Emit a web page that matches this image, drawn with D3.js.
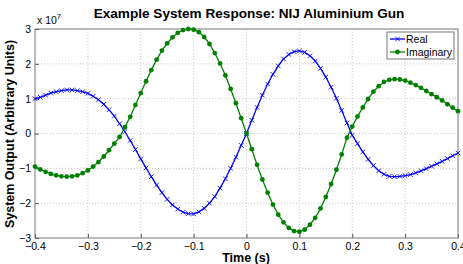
<!DOCTYPE html>
<html>
<head>
<meta charset="utf-8">
<script src="https://cdn.jsdelivr.net/npm/d3@7"></script>
<style>
  body { margin: 0; background: #fff; }
  text { font-family: "Liberation Sans", Arial, sans-serif; }
</style>
</head>
<body>
<svg id="chart" width="463" height="264"></svg>
<script>
// time axis, 0.01 s steps
const times = d3.range(81).map((i) => Math.round((i - 40)) / 100);

// values in units of 1e7
const realValues = [
  1.0, 1.04, 1.1, 1.16, 1.2, 1.23, 1.25, 1.25, 1.23, 1.2,
  1.15, 1.07, 0.97, 0.84, 0.68, 0.5, 0.28, 0.05, -0.2, -0.46,
  -0.73, -0.99, -1.24, -1.48, -1.7, -1.89, -2.05, -2.17, -2.26, -2.3,
  -2.31, -2.25, -2.15, -2.0, -1.81, -1.57, -1.3, -1.0, -0.68, -0.34,
  0.0, 0.38, 0.75, 1.1, 1.42, 1.7, 1.94, 2.14, 2.27, 2.35,
  2.37, 2.33, 2.23, 2.08, 1.87, 1.62, 1.33, 1.01, 0.66, 0.3,
  -0.05, -0.29, -0.53, -0.74, -0.92, -1.07, -1.17, -1.23, -1.24, -1.23,
  -1.21, -1.18, -1.13, -1.07, -1.01, -0.94, -0.87, -0.8, -0.72, -0.64,
  -0.56,
];

const imagValues = [
  -0.95, -1.03, -1.1, -1.16, -1.2, -1.23, -1.24, -1.23, -1.2, -1.14,
  -1.06, -0.95, -0.82, -0.66, -0.48, -0.29, -0.1, 0.18, 0.48, 0.82,
  1.16, 1.5, 1.82, 2.12, 2.38, 2.59, 2.76, 2.89, 2.97, 3.0,
  2.98, 2.91, 2.77, 2.57, 2.31, 2.01, 1.67, 1.28, 0.87, 0.44,
  0.0, -0.45, -0.9, -1.32, -1.7, -2.04, -2.33, -2.55, -2.71, -2.8,
  -2.82, -2.76, -2.62, -2.42, -2.15, -1.82, -1.45, -1.04, -0.6, -0.12,
  0.2, 0.49, 0.75, 0.99, 1.2, 1.36, 1.48, 1.54, 1.56, 1.55,
  1.52, 1.46, 1.39, 1.31, 1.22, 1.13, 1.04, 0.95, 0.84, 0.74,
  0.64,
];

const xTicks = [-0.4, -0.3, -0.2, -0.1, 0, 0.1, 0.2, 0.3, 0.4];
const yTicks = [-3, -2, -1, 0, 1, 2, 3];
const seriesNames = ["Real", "Imaginary"];

const plotLeft = 35, plotRight = 458, plotTop = 29, plotBottom = 238;

const xScale = d3.scaleLinear().domain([-0.4, 0.4]).range([plotLeft, plotRight]);
const yScale = d3.scaleLinear().domain([-3, 3]).range([plotBottom, plotTop]);

const chart = d3.select("#chart");

// grid
chart
  .append("g")
  .selectAll("line")
  .data(xTicks.slice(1, -1))
  .enter()
  .append("line")
  .attr("x1", (d) => xScale(d))
  .attr("x2", (d) => xScale(d))
  .attr("y1", plotTop)
  .attr("y2", plotBottom)
  .attr("stroke", "#c8c8c8")
  .attr("stroke-dasharray", "1,2");

chart
  .append("g")
  .selectAll("line")
  .data(yTicks.slice(1, -1))
  .enter()
  .append("line")
  .attr("x1", plotLeft)
  .attr("x2", plotRight)
  .attr("y1", (d) => yScale(d))
  .attr("y2", (d) => yScale(d))
  .attr("stroke", "#c8c8c8")
  .attr("stroke-dasharray", "1,2");

// axes (ticks inside, like matlab)
const xAxis = d3.axisBottom(xScale).tickValues(xTicks).tickSize(-4).tickSizeOuter(0)
  .tickFormat((d) => (d === 0 ? "0" : d3.format("")(d)));
const yAxis = d3.axisLeft(yScale).tickValues(yTicks).tickSize(-4).tickSizeOuter(0)
  .tickFormat(d3.format("d"));

const gx = chart.append("g").attr("transform", `translate(0, ${plotBottom})`).call(xAxis);
gx.select(".domain").remove();
gx.selectAll("line").attr("stroke", "#555");
gx.selectAll("text").attr("y", 4).attr("dy", "0.75em").style("font-size", "10.5px").attr("fill", "#000");

const gy = chart.append("g").attr("transform", `translate(${plotLeft}, 0)`).call(yAxis);
gy.select(".domain").remove();
gy.selectAll("line").attr("stroke", "#555");
gy.selectAll("text").attr("x", -4).style("font-size", "10.5px").attr("fill", "#000");

// axes box
chart
  .append("rect")
  .attr("x", plotLeft)
  .attr("y", plotTop)
  .attr("width", plotRight - plotLeft)
  .attr("height", plotBottom - plotTop)
  .attr("fill", "none")
  .attr("stroke", "#777")
  .attr("stroke-width", 1);

const line = d3
  .line()
  .x((d) => xScale(d[0]))
  .y((d) => yScale(d[1]));

const realData = times.map((t, i) => [t, realValues[i]]);
const imagData = times.map((t, i) => [t, imagValues[i]]);

chart
  .append("path")
  .datum(realData)
  .attr("d", line)
  .attr("fill", "none")
  .attr("stroke", "#0000ff")
  .attr("stroke-width", 1.3);

chart
  .append("path")
  .datum(imagData)
  .attr("d", line)
  .attr("fill", "none")
  .attr("stroke", "#008000")
  .attr("stroke-width", 1.3);

// x markers for the real part
const xMark = d3.symbol().type(d3.symbolX).size(15);
chart
  .append("g")
  .selectAll("path")
  .data(realData)
  .enter()
  .append("path")
  .attr("d", xMark)
  .attr("transform", (d) => `translate(${xScale(d[0])}, ${yScale(d[1])})`)
  .attr("fill", "#0000ff")
  .attr("stroke", "#0000ff")
  .attr("stroke-width", 0.9);

// dots for the imaginary part
chart
  .append("g")
  .selectAll("circle")
  .data(imagData)
  .enter()
  .append("circle")
  .attr("cx", (d) => xScale(d[0]))
  .attr("cy", (d) => yScale(d[1]))
  .attr("r", 2.4)
  .attr("fill", "#008000");

// exponent label
const expo = chart.append("text").attr("x", 37).attr("y", 24).style("font-size", "10.5px");
expo.append("tspan").text("x 10");
expo.append("tspan").attr("dy", -5).style("font-size", "7.5px").text("7");

// legend
const legend = chart.append("g");
legend
  .append("rect")
  .attr("x", 387)
  .attr("y", 32)
  .attr("width", 67)
  .attr("height", 27)
  .attr("fill", "#fff")
  .attr("stroke", "#777");

const legendColors = ["#0000ff", "#008000"];
seriesNames.forEach((name, i) => {
  const y = 39 + i * 13;
  legend
    .append("line")
    .attr("x1", 390)
    .attr("x2", 405)
    .attr("y1", y)
    .attr("y2", y)
    .attr("stroke", legendColors[i])
    .attr("stroke-width", 1.3);
  if (i === 0) {
    legend
      .append("path")
      .attr("d", xMark)
      .attr("transform", `translate(397.5, ${y})`)
      .attr("stroke", legendColors[i])
      .attr("stroke-width", 0.9);
  } else {
    legend
      .append("circle")
      .attr("cx", 397.5)
      .attr("cy", y)
      .attr("r", 2.4)
      .attr("fill", legendColors[i]);
  }
  legend
    .append("text")
    .attr("x", 406)
    .attr("y", y + 3.5)
    .style("font-size", "10.5px")
    .text(name);
});

// titles
chart
  .append("text")
  .attr("x", 249)
  .attr("y", 18)
  .attr("text-anchor", "middle")
  .style("font-size", "13.6px")
  .style("font-weight", "bold")
  .text("Example System Response: NIJ Aluminium Gun");

chart
  .append("text")
  .attr("x", 246)
  .attr("y", 262)
  .attr("text-anchor", "middle")
  .style("font-size", "12.5px")
  .style("font-weight", "bold")
  .text("Time (s)");

chart
  .append("text")
  .attr("x", -134)
  .attr("y", 14)
  .attr("text-anchor", "middle")
  .attr("transform", "rotate(-90)")
  .style("font-size", "12.5px")
  .style("font-weight", "bold")
  .text("System Output (Arbitrary Units)");
</script>
</body>
</html>
